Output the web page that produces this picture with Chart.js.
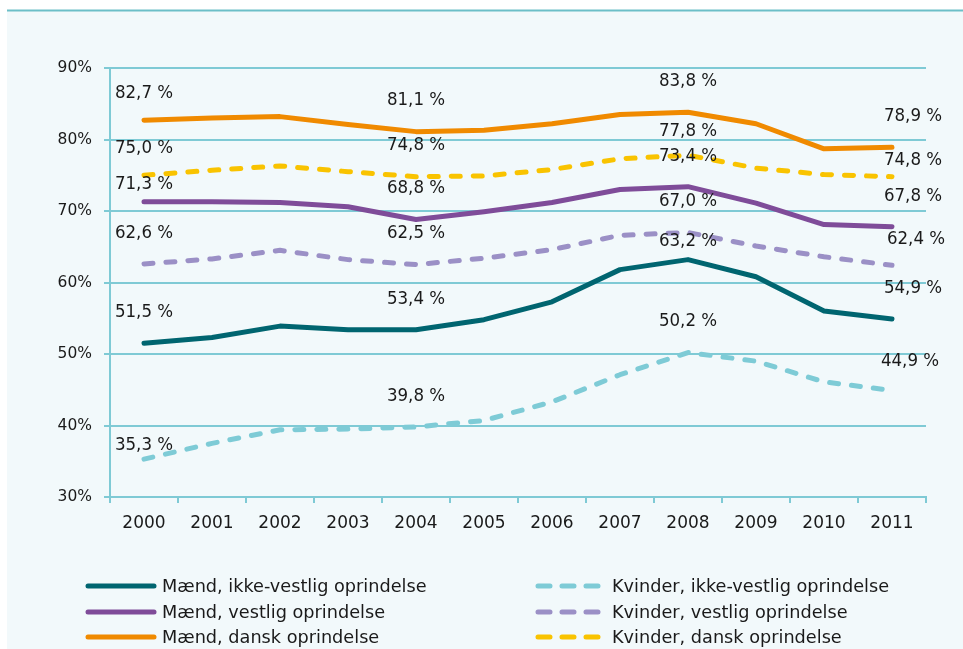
<!DOCTYPE html>
<html>
<head>
<meta charset="utf-8">
<script src="https://cdn.jsdelivr.net/npm/chart.js@4.4.1/dist/chart.umd.min.js"></script>
<style>
  html, body { margin: 0; padding: 0; background: #fff; overflow: hidden; }
  canvas { display: block; }
</style>
</head>
<body>
<canvas id="chart" width="963" height="649"></canvas>
<script>
// Data (percent)
const years = ['2000', '2001', '2002', '2003', '2004', '2005', '2006', '2007', '2008', '2009', '2010', '2011'];
const maendIkkeVestlig   = [51.5, 52.3, 53.9, 53.4, 53.4, 54.8, 57.3, 61.8, 63.2, 60.8, 56.0, 54.9];
const maendVestlig       = [71.3, 71.3, 71.2, 70.6, 68.8, 69.9, 71.2, 73.0, 73.4, 71.1, 68.1, 67.8];
const maendDansk         = [82.7, 83.0, 83.2, 82.1, 81.1, 81.3, 82.2, 83.5, 83.8, 82.2, 78.7, 78.9];
const kvinderIkkeVestlig = [35.3, 37.5, 39.4, 39.5, 39.8, 40.7, 43.3, 47.1, 50.2, 49.0, 46.1, 44.9];
const kvinderVestlig     = [62.6, 63.3, 64.5, 63.2, 62.5, 63.4, 64.6, 66.6, 67.0, 65.1, 63.6, 62.4];
const kvinderDansk       = [75.0, 75.7, 76.3, 75.5, 74.8, 74.9, 75.8, 77.3, 77.8, 76.0, 75.1, 74.8];
const yTicks = [30, 40, 50, 60, 70, 80, 90];
const labelledYears = [0, 4, 8, 11];

const GRID = '#7fcad5';
const TEXT = '#1a1a1a';
const FONT = '"DejaVu Sans", Verdana, sans-serif';
const LABEL_FONT = '"DejaVu Sans Condensed", "DejaVu Sans", sans-serif';
const DASH = [9, 13];

// small per-label nudges (dataset index -> year index -> [dx, dy]) where the
// original labels were moved off the lines
const labelNudge = {
    1: { 0: [0, 13] },
    2: { 0: [0, 4] },
    3: { 0: [0, 17], 11: [-3, 2] },
    4: { 11: [3, 5] },
    5: { 0: [0, 4], 8: [0, 7], 11: [0, 15] },
    0: { 8: [0, 13] }
};

function fmt(v) {
    return v.toFixed(1).replace('.', ',') + ' %';
}

const bgPlugin = {
    id: 'panel',
    beforeDraw(chart) {
        const ctx = chart.ctx;
        ctx.save();
        ctx.fillStyle = '#ffffff';
        ctx.fillRect(0, 0, chart.width, chart.height);
        ctx.fillStyle = '#f2f9fb';
        ctx.fillRect(7, 10, chart.width - 7, chart.height - 10);
        ctx.strokeStyle = '#6cbfc8';
        ctx.lineWidth = 2;
        ctx.beginPath();
        ctx.moveTo(7, 10.5);
        ctx.lineTo(chart.width, 10.5);
        ctx.stroke();
        ctx.restore();
    }
};

const valueLabels = {
    id: 'valueLabels',
    afterDatasetsDraw(chart) {
        const ctx = chart.ctx;
        ctx.save();
        ctx.font = '18.5px ' + LABEL_FONT;
        ctx.fillStyle = TEXT;
        ctx.textAlign = 'center';
        ctx.textBaseline = 'middle';
        chart.data.datasets.forEach((ds, di) => {
            const meta = chart.getDatasetMeta(di);
            labelledYears.forEach(i => {
                const pt = meta.data[i];
                let dx = (i === years.length - 1) ? 21 : 0;
                let dy = -31;
                const n = labelNudge[di] && labelNudge[di][i];
                if (n) { dx += n[0]; dy += n[1]; }
                ctx.fillText(fmt(ds.data[i]), pt.x + dx, pt.y + dy);
            });
        });
        ctx.restore();
    }
};

// two-column legend: men on the left, women on the right
const legendPlugin = {
    id: 'twoColLegend',
    afterDraw(chart) {
        const ctx = chart.ctx;
        const cols = [{ x0: 86, x1: 156, tx: 162 }, { x0: 536, x1: 600, tx: 612 }];
        const rows = [586, 612, 637];
        ctx.save();
        ctx.font = '17.7px ' + FONT;
        ctx.textBaseline = 'middle';
        chart.data.datasets.forEach((ds, di) => {
            const c = cols[Math.floor(di / 3)];
            const y = rows[di % 3];
            ctx.strokeStyle = ds.borderColor;
            ctx.lineWidth = 5;
            ctx.lineCap = 'round';
            ctx.setLineDash(ds.borderDash && ds.borderDash.length ? [12, 12] : []);
            ctx.beginPath();
            ctx.moveTo(c.x0 + 2, y);
            ctx.lineTo(c.x1 - 2, y);
            ctx.stroke();
            ctx.setLineDash([]);
            ctx.fillStyle = TEXT;
            ctx.textAlign = 'left';
            ctx.fillText(ds.label, c.tx, y + 1);
        });
        ctx.restore();
    }
};

function series(label, data, color, dashed) {
    return {
        label: label,
        data: data,
        borderColor: color,
        backgroundColor: color,
        borderWidth: 5,
        borderDash: dashed ? DASH : [],
        borderCapStyle: 'round',
        borderJoinStyle: 'round',
        pointRadius: 0,
        pointHoverRadius: 0,
        tension: 0,
        fill: false
    };
}

new Chart(document.getElementById('chart'), {
    type: 'line',
    data: {
        labels: years,
        datasets: [
            series('Mænd, ikke-vestlig oprindelse', maendIkkeVestlig, '#006570', false),
            series('Mænd, vestlig oprindelse', maendVestlig, '#7f4c99', false),
            series('Mænd, dansk oprindelse', maendDansk, '#f08a00', false),
            series('Kvinder, ikke-vestlig oprindelse', kvinderIkkeVestlig, '#7ecbd6', true),
            series('Kvinder, vestlig oprindelse', kvinderVestlig, '#9b90c6', true),
            series('Kvinder, dansk oprindelse', kvinderDansk, '#f9c300', true)
        ]
    },
    options: {
        responsive: false,
        animation: false,
        events: [],
        layout: { padding: { left: 10, right: 37, top: 68, bottom: 0 } },
        plugins: {
            legend: { display: false },
            tooltip: { enabled: false }
        },
        scales: {
            x: {
                offset: true,
                grid: {
                    offset: true,
                    drawOnChartArea: false,
                    drawTicks: true,
                    tickLength: 6,
                    color: GRID,
                    lineWidth: 2
                },
                border: { display: true, color: GRID, width: 2 },
                ticks: {
                    color: TEXT,
                    font: { family: FONT, size: 17 },
                    padding: 10,
                    maxRotation: 0
                },
                afterFit(scale) { scale.height = 152; }
            },
            y: {
                min: yTicks[0],
                max: yTicks[yTicks.length - 1],
                afterBuildTicks(scale) { scale.ticks = yTicks.map(v => ({ value: v })); },
                grid: {
                    color: GRID,
                    lineWidth: 2,
                    drawTicks: true,
                    tickLength: 6
                },
                border: { display: true, color: GRID, width: 2 },
                ticks: {
                    color: TEXT,
                    font: { family: FONT, size: 15.5 },
                    padding: 12,
                    callback: v => v + '%'
                },
                afterFit(scale) { scale.width = 100; }
            }
        }
    },
    plugins: [bgPlugin, valueLabels, legendPlugin]
});
</script>
</body>
</html>
